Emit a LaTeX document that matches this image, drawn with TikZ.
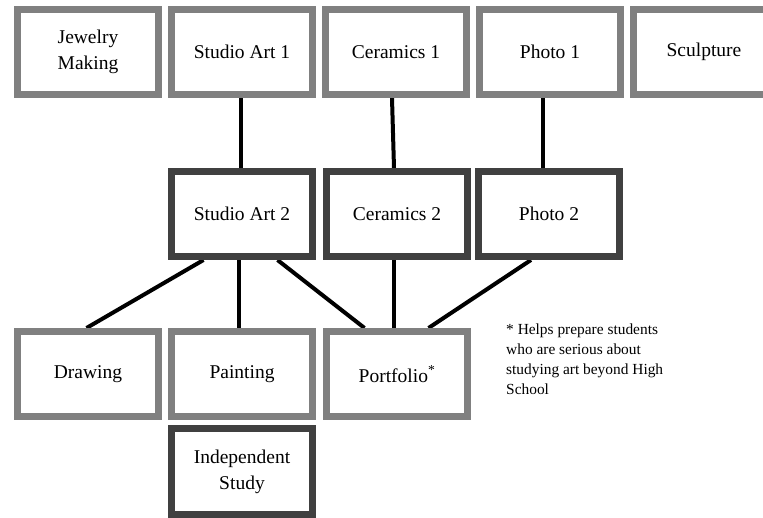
\documentclass[tikz,border=0pt]{standalone}
\usepackage{fontspec}
\setmainfont{Liberation Serif}
\usetikzlibrary{positioning,backgrounds}
\definecolor{boxgray}{gray}{0.5}
\definecolor{boxdark}{gray}{0.25}
\tikzset{
    course/.style={rectangle, draw=boxgray, fill=white, line width=7pt,
        minimum width=141pt, minimum height=85pt, align=center,
        font=\fontsize{19.5}{26}\selectfont},
    advanced/.style={course, draw=boxdark},
    link/.style={line width=4pt, black},
}
\begin{document}
\begin{tikzpicture}[x=1pt, y=-1pt, node distance=6pt]
            \useasboundingbox (0,0) rectangle (763,518);
            % first year courses
            \node[course, align=left] (jewelry) at (88,52) {Jewelry\\Making};
            \node[course, right=of jewelry] (studio1) {Studio Art 1};
            \node[course, right=of studio1] (ceramics1) {Ceramics 1};
            \node[course, right=of ceramics1] (photo1) {Photo 1};
            \node[course, right=of photo1] (sculpture) {Sculpture};
            % second level
            \node[advanced, below=70pt of studio1] (studio2) {Studio Art 2};
            \node[advanced, below=70pt of ceramics1, xshift=1pt] (ceramics2) {Ceramics 2};
            \node[advanced, below=70pt of photo1, xshift=-1pt] (photo2) {Photo 2};
            % third level
            \node[course, below=68pt of studio2] (painting) {Painting};
            \node[course, left=of painting] (drawing) {Drawing};
            \node[course, right=of painting, xshift=1pt] (portfolio) {Portfolio\textsuperscript{*}};
            \node[advanced, below=5pt of painting, minimum height=86pt] (independent) {Independent\\Study};
            \node[anchor=north west, align=left, inner sep=0pt,
                font=\fontsize{15.4}{20}\selectfont]
                (note) at ([xshift=35pt, yshift=4.5pt]portfolio.north east)
                {* Helps prepare students\\who are serious about\\studying art beyond High\\School};
            \begin{scope}[on background layer]
                \fill[white] (0,0) rectangle (763,518);
                \draw[link] ([xshift=-1pt]studio1.south) -- ([xshift=-1pt]studio2.north);
                \draw[link] ([xshift=-4pt]ceramics1.south) -- ([xshift=-3pt]ceramics2.north);
                \draw[link] ([xshift=-7pt]photo1.south) -- ([xshift=-6pt]photo2.north);
                \draw[link] ([xshift=-38.5pt]studio2.south) -- ([xshift=-1.5pt]drawing.north);
                \draw[link] ([xshift=-3pt]studio2.south) -- ([xshift=-3pt]painting.north);
                \draw[link] ([xshift=35.5pt]studio2.south) -- ([xshift=-32.5pt]portfolio.north);
                \draw[link] ([xshift=-3pt]ceramics2.south) -- ([xshift=-3pt]portfolio.north);
                \draw[link] ([xshift=-18pt]photo2.south) -- ([xshift=31.5pt]portfolio.north);
            \end{scope}
            \end{tikzpicture}
\end{document}
